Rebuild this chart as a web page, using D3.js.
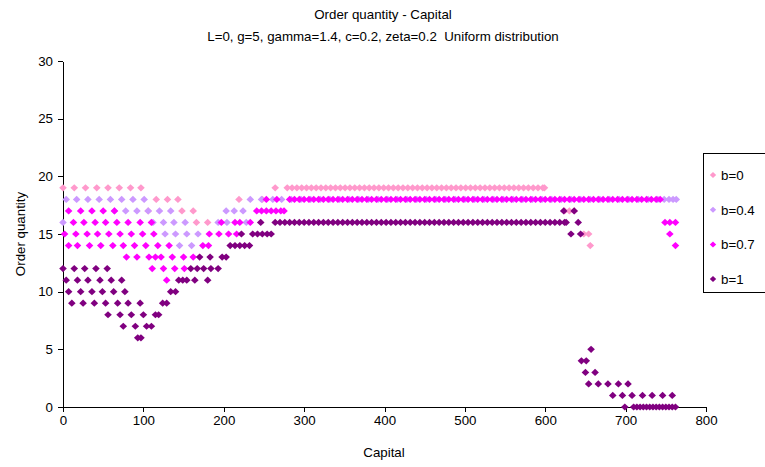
<!DOCTYPE html>
<html><head><meta charset="utf-8">
<script src="https://cdn.jsdelivr.net/npm/d3@7/dist/d3.min.js"></script>
<style>
html,body{margin:0;padding:0;background:#fff;}
svg text{font-family:"Liberation Sans",Arial,sans-serif;fill:#000;white-space:pre;}
</style></head>
<body><svg id="c" width="765" height="467"></svg>
<script>
// ---------- data (Capital values per order-quantity level) ----------
const seriesNames = ["b=0","b=0.4","b=0.7","b=1"];
const seriesColors = ["#FF99CC","#CC99FF","#FF00FF","#800080"];
const xTicks = [0,100,200,300,400,500,600,700,800];
const yTicks = [0,5,10,15,20,25,30];

// b=0
const b0_q19 = [0,14,28,42,56,70,84,97,264,279,285,291,297,303,309,315,321,327,333,339,345,351,357,363,369,375,381,387,393,399,405,411,417,423,429,435,441,447,453,459,465,471,477,483,489,495,501,507,513,519,525,531,537,543,549,555,561,567,573,579,585,591,597,599];
const b0_q18 = [116,130,143,219,248];
const b0_q17 = [106,148,162,624,630,636];
const b0_q16 = [166,180];
const b0_q15 = [648,654];
const b0_q14 = [656];

// b=0.4
const b4_q18 = [4,17,31,45,59,73,87,101,233,247,261,272,284,296,308,320,332,344,356,368,380,392,404,416,428,440,452,464,476,488,500,512,524,536,548,560,572,584,596,608,620,632,644,656,668,680,692,704,716,728,740,748,754,759,763];
const b4_q17 = [64,78,92,106,120,134,203,213,224];
const b4_q16 = [0,112,125,138,152,193,204,228];
const b4_q15 = [127,140,154,168];
const b4_q14 = [145,160];

// b=0.7
const b7_q18 = [253,266,282,288,294,300,306,312,318,324,330,336,342,348,354,360,366,372,378,384,390,396,402,408,414,420,426,432,438,444,450,456,462,468,474,480,486,492,498,504,510,516,522,528,534,540,546,552,558,564,570,576,582,588,594,600,606,612,618,624,630,636,642,648,654,660,666,672,678,684,690,696,702,708,714,720,726,732,738,743];
const b7_q17 = [7,22,36,50,64,241,247,253,259,265,271,275];
const b7_q16 = [13,26,40,53,67,81,96,110,197,214,220,233,749,755,762];
const b7_q15 = [2,16,30,43,57,71,85,99,113,182,194,206,216,755];
const b7_q14 = [7,18,33,47,62,75,89,103,118,132,174,181,762];
const b7_q13 = [79,92,107,115,122,136,150,162];
const b7_q12 = [111,125,139,151];
const b7_q11 = [129];

// b=1
const b1_q17 = [623,636];
const b1_q16 = [246,264,270,276,282,288,294,300,306,312,318,324,330,336,342,348,354,360,366,372,378,384,390,396,402,408,414,420,426,432,438,444,450,456,462,468,474,480,486,492,498,504,510,516,522,528,534,540,546,552,558,564,570,576,582,588,594,600,606,612,618,624,626,641];
const b1_q15 = [222,236,242,248,254,259,632,644];
const b1_q14 = [208,214,220,226,232];
const b1_q13 = [170,183,198,203];
const b1_q12 = [0,14,27,41,55,159,167,175,184,193];
const b1_q11 = [4,18,31,46,60,73,144,149,154,164,180];
const b1_q10 = [7,22,36,49,63,77,134,140];
const b1_q9 = [11,25,39,53,68,81,96,124,129];
const b1_q8 = [56,71,85,100,115,119];
const b1_q7 = [75,90,104,110];
const b1_q6 = [93,97];
const b1_q5 = [657];
const b1_q4 = [645,651];
const b1_q3 = [650,662];
const b1_q2 = [654,666,678,691,703];
const b1_q1 = [684,696,708,721,733,746,758];
const b1_q0 = [699,710,714,718,722,726,730,734,738,742,746,750,754,758,762];

function rows(list){ // list of [qty, capitals]
  const out=[]; list.forEach(([q,xs])=>xs.forEach(v=>out.push([v,q]))); return out;
}
const seriesData = [
  rows([[19,b0_q19],[18,b0_q18],[17,b0_q17],[16,b0_q16],[15,b0_q15],[14,b0_q14]]),
  rows([[18,b4_q18],[17,b4_q17],[16,b4_q16],[15,b4_q15],[14,b4_q14]]),
  rows([[18,b7_q18],[17,b7_q17],[16,b7_q16],[15,b7_q15],[14,b7_q14],[13,b7_q13],[12,b7_q12],[11,b7_q11]]),
  rows([[17,b1_q17],[16,b1_q16],[15,b1_q15],[14,b1_q14],[13,b1_q13],[12,b1_q12],[11,b1_q11],[10,b1_q10],[9,b1_q9],[8,b1_q8],[7,b1_q7],[6,b1_q6],[5,b1_q5],[4,b1_q4],[3,b1_q3],[2,b1_q2],[1,b1_q1],[0,b1_q0]])
];

// ---------- chart ----------
const FS = "13.3px";
const svg = d3.select("#c");
const x = d3.scaleLinear().domain([0,800]).range([63,706]);
const y = d3.scaleLinear().domain([0,30]).range([407,61]);
const diamond = "M0,-3.6L3.8,0L0,3.6L-3.8,0Z";

svg.append("text").attr("x",383).attr("y",19).attr("text-anchor","middle").style("font-size",FS).text("Order quantity - Capital");
svg.append("text").attr("x",383).attr("y",41).attr("text-anchor","middle").style("font-size",FS).text("L=0, g=5, gamma=1.4, c=0.2, zeta=0.2  Uniform distribution");

const gx = svg.append("g").attr("transform","translate(0,407)")
  .call(d3.axisBottom(x).tickValues(xTicks).tickSize(5).tickSizeOuter(0).tickPadding(4));
const gy = svg.append("g").attr("transform","translate(63,0)")
  .call(d3.axisLeft(y).tickValues(yTicks).tickSize(5).tickSizeOuter(0).tickPadding(5));
[gx,gy].forEach(g=>{
  g.selectAll("path,line").attr("stroke","#000").attr("shape-rendering","crispEdges");
  g.selectAll("text").style("font-size",FS).attr("fill","#000").style("font-family","'Liberation Sans',Arial,sans-serif");
});

svg.append("text").attr("x",384).attr("y",457).attr("text-anchor","middle").style("font-size",FS).text("Capital");
svg.append("text").attr("transform","translate(25,234) rotate(-90)").attr("text-anchor","middle").style("font-size",FS).text("Order quantity");

const plot = svg.append("g");
seriesData.forEach((d,i)=>{
  plot.append("g").selectAll("path").data(d).join("path")
    .attr("d",diamond)
    .attr("transform",p=>`translate(${x(p[0])},${y(p[1])})`)
    .attr("fill",seriesColors[i]);
});

// legend
const lg = svg.append("g");
lg.append("rect").attr("x",703.5).attr("y",153.5).attr("width",70).attr("height",139)
  .attr("fill","#fff").attr("stroke","#000").attr("shape-rendering","crispEdges");
seriesNames.forEach((n,i)=>{
  const yy = 175 + i*34.7;
  lg.append("path").attr("d","M0,-3L3.2,0L0,3L-3.2,0Z").attr("transform",`translate(713,${yy})`).attr("fill",seriesColors[i]);
  lg.append("text").attr("x",721).attr("y",yy+5).style("font-size",FS).text(n);
});
</script></body></html>
